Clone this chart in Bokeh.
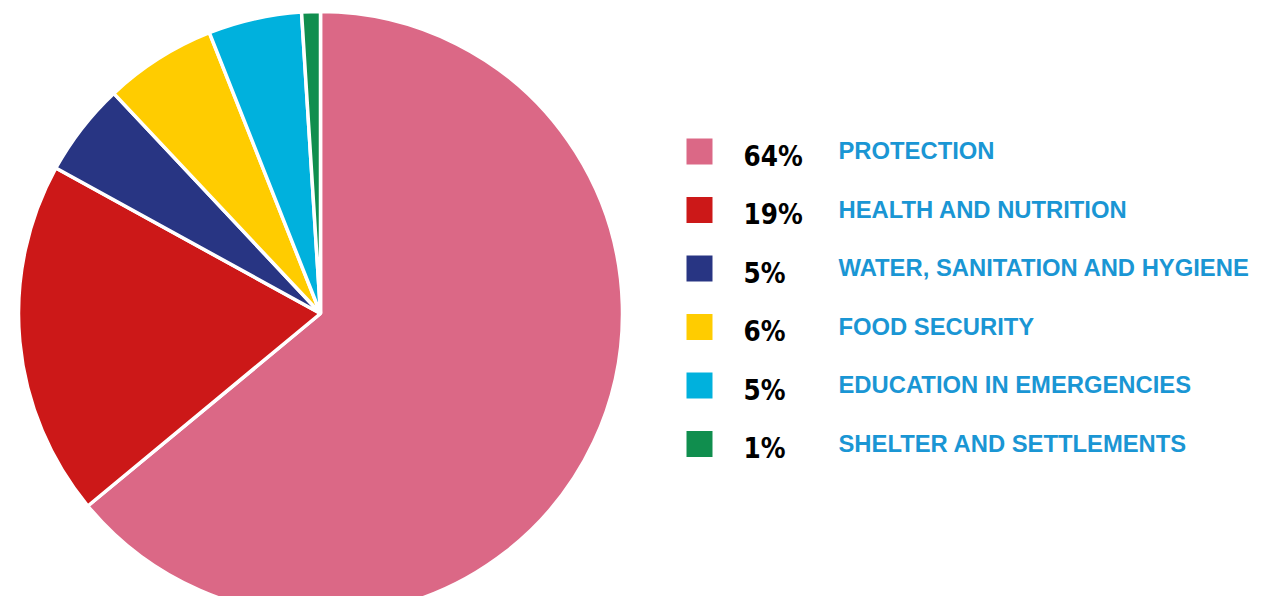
import numpy as np
from bokeh.plotting import figure
from bokeh.models import Range1d, ColumnDataSource
from bokeh.core.properties import value
from bokeh.embed import file_html
from bokeh.resources import INLINE

categories = ["PROTECTION", "HEALTH AND NUTRITION", "WATER, SANITATION AND HYGIENE",
              "FOOD SECURITY", "EDUCATION IN EMERGENCIES", "SHELTER AND SETTLEMENTS"]
shares = [64, 19, 5, 6, 5, 1]
pct_labels = ["64%", "19%", "5%", "6%", "5%", "1%"]
colors = ["#DB6886", "#CC1818", "#283583", "#FFCC00", "#00B1DD", "#108E4E"]

W, H = 1250, 596
p = figure(width=W, height=H, output_backend="svg", toolbar_location=None,
           x_range=Range1d(0, W), y_range=Range1d(0, H), min_border=0)
p.axis.visible = False
p.grid.visible = False
p.outline_line_color = None
p.background_fill_color = "white"

def sx(x):
    return x

def sy(y):
    return H - y

frac = np.array(shares, dtype=float) / sum(shares)
cum = np.concatenate([[0], np.cumsum(frac)])
start = np.pi / 2 - cum[:-1] * 2 * np.pi
end = np.pi / 2 - cum[1:] * 2 * np.pi

src = ColumnDataSource(dict(start=start, end=end, color=colors))
p.wedge(x=sx(320), y=sy(313), radius=302, start_angle="start", end_angle="end",
        direction="clock", fill_color="color", line_color="white", line_width=3.5,
        source=src)

row_y = [sy(151 + i * 58.5) for i in range(len(categories))]
leg = ColumnDataSource(dict(y=row_y, color=colors, pct=pct_labels, cat=categories,
                            xs=[sx(699)] * 6, xp=[sx(743)] * 6, xc=[sx(838)] * 6))
p.rect(x="xs", y="y", width=26, height=26, fill_color="color", line_color=None, source=leg)
p.text(x="xp", y="y", text="pct", text_font=value("DejaVu Sans Condensed"),
       text_font_style="bold", text_font_size="27.5px", text_color="#000000",
       text_baseline="middle", y_offset=4, source=leg)
p.text(x="xc", y="y", text="cat", text_font=value("Liberation Sans"),
       text_font_style="bold", text_font_size="23.8px", text_color="#1A96D4",
       text_baseline="middle", y_offset=-1, source=leg)

open("out.html", "w").write(file_html(p, INLINE))
